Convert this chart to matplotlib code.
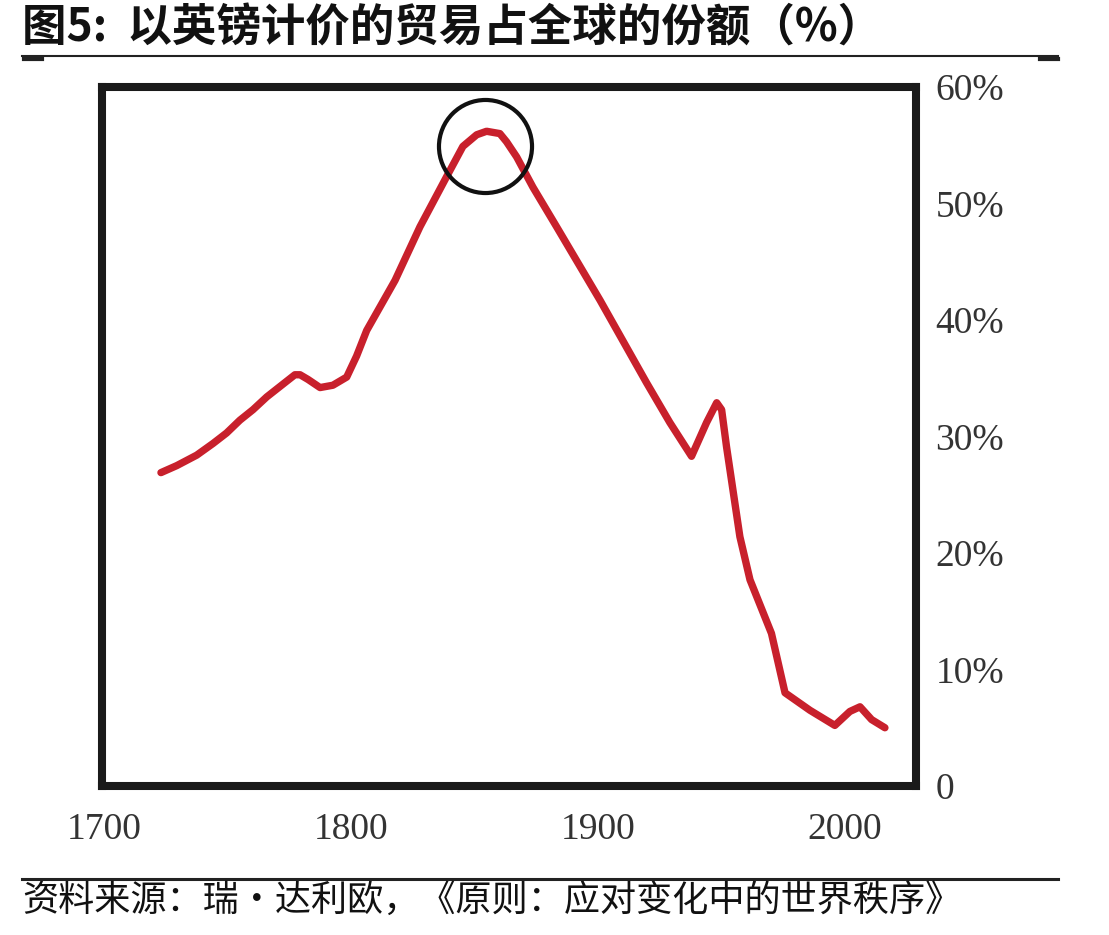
import matplotlib
matplotlib.use("Agg")
import matplotlib.pyplot as plt
from matplotlib.lines import Line2D

# ---- data ----
years = [1722.9, 1729.3, 1737.4, 1744.0, 1749.5, 1754.9, 1760.2, 1765.8, 1771.2, 1777.2,
         1779.3, 1782.5, 1787.4, 1792.6, 1798.2, 1802.2, 1806.3, 1817.8, 1827.9, 1838.7,
         1845.3, 1850.9, 1854.9, 1860.3, 1863.0, 1867.1, 1873.7, 1883.3, 1900.9, 1919.8,
         1929.2, 1938.0, 1944.1, 1948.2, 1950.2, 1952.2, 1957.6, 1961.7, 1970.4, 1975.9,
         1986.0, 1996.1, 2002.2, 2006.3, 2011.0, 2016.4]
share = [26.9, 27.5, 28.4, 29.4, 30.3, 31.4, 32.3, 33.4, 34.3, 35.3,
         35.3, 34.9, 34.2, 34.4, 35.1, 36.9, 39.1, 43.4, 48.0, 52.3,
         54.9, 55.9, 56.2, 56.0, 55.3, 54.0, 51.4, 48.0, 41.7, 34.6,
         31.2, 28.3, 31.2, 32.9, 32.3, 29.1, 21.4, 17.7, 13.1, 8.0,
         6.5, 5.2, 6.4, 6.8, 5.7, 5.0]

x_ticks = [1700, 1800, 1900, 2000]
x_tick_labels = ["1700", "1800", "1900", "2000"]
y_ticks = [0, 10, 20, 30, 40, 50, 60]
y_tick_labels = ["0", "10%", "20%", "30%", "40%", "50%", "60%"]

highlight_year = 1854.3
highlight_value = 54.9

title = "图5:  以英镑计价的贸易占全球的份额（%）"
source = "资料来源：瑞·达利欧，《原则：应对变化中的世界秩序》"

# ---- figure ----
W, H = 1109, 935
fig = plt.figure(figsize=(W / 100, H / 100), dpi=100)
fig.patch.set_facecolor("white")

cjk = ["Noto Sans CJK SC", "DejaVu Sans"]
serif = ["Liberation Serif", "DejaVu Serif"]

ax = fig.add_axes([102 / W, 1 - 786 / H, (916 - 102) / W, (786 - 87) / H])
ax.plot(years, share, color="#c8202c", lw=5.3, solid_joinstyle="round", solid_capstyle="round")
ax.plot([highlight_year], [highlight_value], marker="o", ms=67, mfc="none",
        mec="#111111", mew=3.0)

ax.set_xlim(1699, 2029)
ax.set_ylim(0, 60)
ax.set_xticks(x_ticks)
ax.set_xticklabels(x_tick_labels)
ax.set_yticks(y_ticks)
ax.set_yticklabels(y_tick_labels)
ax.yaxis.tick_right()
ax.tick_params(axis="both", length=0, labelcolor="#333333")
ax.tick_params(axis="y", pad=14)
ax.tick_params(axis="x", pad=19)
for lab in ax.get_xticklabels() + ax.get_yticklabels():
    lab.set_fontfamily(serif)
    lab.set_fontsize(27)

for sp in ax.spines.values():
    sp.set_linewidth(5.8)
    sp.set_color("#1a1a1a")
    sp.set_capstyle("projecting")

# title and rules
fig.text(22 / W, 1 - 28 / H, title, fontsize=32, fontweight="bold",
         family=cjk, va="center", ha="left", color="#111111")
fig.add_artist(Line2D([22 / W, 1058 / W], [1 - 56 / H, 1 - 56 / H],
                      transform=fig.transFigure, color="#222222", lw=1.5))
fig.add_artist(Line2D([24 / W, 42 / W], [1 - 59 / H, 1 - 59 / H],
                      transform=fig.transFigure, color="#222222", lw=3))
fig.add_artist(Line2D([1040 / W, 1058 / W], [1 - 59 / H, 1 - 59 / H],
                      transform=fig.transFigure, color="#222222", lw=3))

fig.add_artist(Line2D([22 / W, 1058 / W], [1 - 879 / H, 1 - 879 / H],
                      transform=fig.transFigure, color="#222222", lw=2.2))
fig.text(22 / W, 1 - 901 / H, source, fontsize=26, family=cjk,
         va="center", ha="left", color="#111111")

fig.savefig("out.png", dpi=100, facecolor="white")
